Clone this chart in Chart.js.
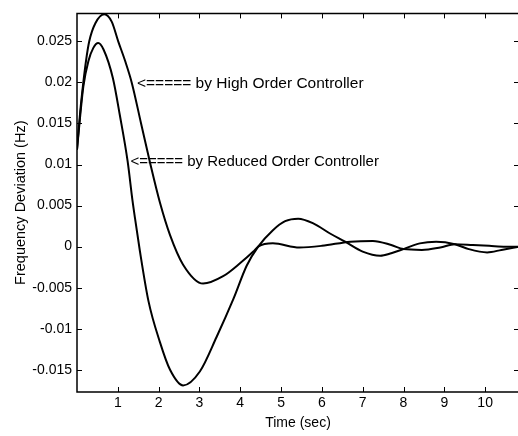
<!DOCTYPE html>
<html>
<head>
<meta charset="utf-8">
<script src="https://cdn.jsdelivr.net/npm/chart.js@4/dist/chart.umd.min.js"></script>
<style>
  html, body { margin: 0; padding: 0; background: #fff; overflow: hidden; }
  canvas { display: block; }
</style>
</head>
<body>
<canvas id="freqChart" width="520" height="436"></canvas>
<script>
// time (sec) and frequency deviation (Hz)
const highTime = [0, 0.08, 0.155, 0.22, 0.3, 0.45, 0.67, 0.85, 1.01, 1.18, 1.34, 1.57, 1.8, 2.03, 2.28, 2.6, 3.09, 3.58, 4.0, 4.32, 4.44, 4.8, 5.45, 6.0, 6.7, 7.25, 7.7, 8.0, 8.45, 8.9, 9.26, 9.7, 10.1, 10.5, 10.83];
const highDev = [0.0118, 0.0165, 0.0200, 0.0226, 0.0250, 0.0272, 0.0283, 0.0274, 0.0250, 0.0226, 0.0200, 0.0150, 0.0100, 0.0054, 0.0014, -0.0022, -0.0045, -0.0036, -0.0020, -0.0006, 0.0000, 0.0004, -0.0001, 0.0001, 0.0006, 0.0007, 0.0002, -0.0003, -0.0004, -0.0001, 0.0003, 0.0002, 0.0001, 0.0000, 0.0000];

const reducedTime = [0, 0.08, 0.155, 0.28, 0.4, 0.52, 0.65, 0.88, 1.05, 1.24, 1.36, 1.42, 1.54, 1.75, 2.03, 2.28, 2.6, 3.01, 3.42, 3.83, 4.16, 4.44, 4.8, 5.1, 5.42, 5.8, 6.2, 6.57, 7.0, 7.43, 7.7, 8.0, 8.4, 8.8, 9.26, 9.6, 10.05, 10.4, 10.83];
const reducedDev = [0.0118, 0.0160, 0.0195, 0.0226, 0.0242, 0.0248, 0.0240, 0.0205, 0.0160, 0.0104, 0.0056, 0.0035, -0.0005, -0.0066, -0.0116, -0.0150, -0.0169, -0.0152, -0.0110, -0.0064, -0.0023, 0.0000, 0.0020, 0.0031, 0.0034, 0.0028, 0.0016, 0.0006, -0.0006, -0.0011, -0.0008, -0.0003, 0.0004, 0.0006, 0.0003, -0.0003, -0.0007, -0.0004, 0.0000];

const xTicks = [1, 2, 3, 4, 5, 6, 7, 8, 9, 10];
const yTicks = [-0.015, -0.01, -0.005, 0, 0.005, 0.01, 0.015, 0.02, 0.025];
const yTickLabels = ["-0.015", "-0.01", "-0.005", "0", "0.005", "0.01", "0.015", "0.02", "0.025"];

const notes = [
    { text: "<===== by High Order Controller", t: 1.47, dev: 0.0198, size: 15.5 },
    { text: "<===== by Reduced Order Controller", t: 1.31, dev: 0.0103, size: 15 }
];

const fontName = "'Liberation Sans', Arial, sans-serif";

function toPoints(xs, ys) {
    return xs.map((x, i) => ({ x: x, y: ys[i] }));
}

// MATLAB style box with inward ticks, plus the text notes
const boxPlugin = {
    id: "box",
    afterDatasetsDraw(chart) {
        const { ctx, chartArea: a, scales } = chart;
        const len = 5;
        ctx.save();
        ctx.strokeStyle = "#000";
        ctx.lineWidth = 1.5;
        ctx.beginPath();
        ctx.moveTo(a.right + 2, a.top);
        ctx.lineTo(a.left, a.top);
        ctx.lineTo(a.left, a.bottom);
        ctx.lineTo(a.right + 2, a.bottom);
        ctx.stroke();

        ctx.beginPath();
        xTicks.forEach(v => {
            const px = Math.round(scales.x.getPixelForValue(v)) + 0.5;
            ctx.moveTo(px, a.bottom); ctx.lineTo(px, a.bottom - len);
            ctx.moveTo(px, a.top); ctx.lineTo(px, a.top + len);
        });
        yTicks.forEach(v => {
            const py = Math.round(scales.y.getPixelForValue(v)) + 0.5;
            ctx.moveTo(a.left, py); ctx.lineTo(a.left + len, py);
            ctx.moveTo(a.right, py); ctx.lineTo(a.right - len, py);
        });
        ctx.lineWidth = 1;
        ctx.stroke();

        ctx.fillStyle = "#000";
        ctx.textAlign = "left";
        ctx.textBaseline = "middle";
        notes.forEach(n => {
            ctx.font = n.size + "px " + fontName;
            ctx.fillText(n.text, scales.x.getPixelForValue(n.t), scales.y.getPixelForValue(n.dev));
        });
        ctx.restore();
    }
};

const ctx = document.getElementById("freqChart").getContext("2d");
new Chart(ctx, {
    type: "line",
    data: {
        datasets: [
            {
                label: "High Order Controller",
                data: toPoints(highTime, highDev),
                borderColor: "#000",
                borderWidth: 2,
                pointRadius: 0,
                cubicInterpolationMode: "monotone"
            },
            {
                label: "Reduced Order Controller",
                data: toPoints(reducedTime, reducedDev),
                borderColor: "#000",
                borderWidth: 2,
                pointRadius: 0,
                cubicInterpolationMode: "monotone"
            }
        ]
    },
    options: {
        responsive: false,
        animation: false,
        layout: { padding: { top: 12, right: 1, bottom: 0, left: 0 } },
        plugins: {
            legend: { display: false },
            tooltip: { enabled: false }
        },
        scales: {
            x: {
                type: "linear",
                min: 0,
                max: 10.83,
                afterBuildTicks: scale => { scale.ticks = xTicks.map(v => ({ value: v })); },
                afterFit: scale => { scale.height = 44; },
                grid: { display: false, drawTicks: false },
                border: { display: false },
                ticks: {
                    color: "#000",
                    padding: 3,
                    maxRotation: 0,
                    font: { family: fontName, size: 14 },
                    callback: v => String(v)
                },
                title: {
                    display: true,
                    text: "Time (sec)",
                    color: "#000",
                    font: { family: fontName, size: 14 },
                    padding: { top: 0, bottom: 4 }
                }
            },
            y: {
                type: "linear",
                min: -0.0177,
                max: 0.0284,
                afterBuildTicks: scale => { scale.ticks = yTicks.map(v => ({ value: v })); },
                afterFit: scale => { scale.width = 77; },
                grid: { display: false, drawTicks: false },
                border: { display: false },
                ticks: {
                    color: "#000",
                    padding: 5,
                    font: { family: fontName, size: 14 },
                    callback: v => {
                        const i = yTicks.findIndex(t => Math.abs(t - v) < 1e-9);
                        return i >= 0 ? yTickLabels[i] : "";
                    }
                },
                title: {
                    display: true,
                    text: "Frequency Deviation (Hz)",
                    color: "#000",
                    font: { family: fontName, size: 14.5 },
                    padding: { top: 12, bottom: 0 }
                }
            }
        }
    },
    plugins: [boxPlugin]
});
</script>
</body>
</html>
